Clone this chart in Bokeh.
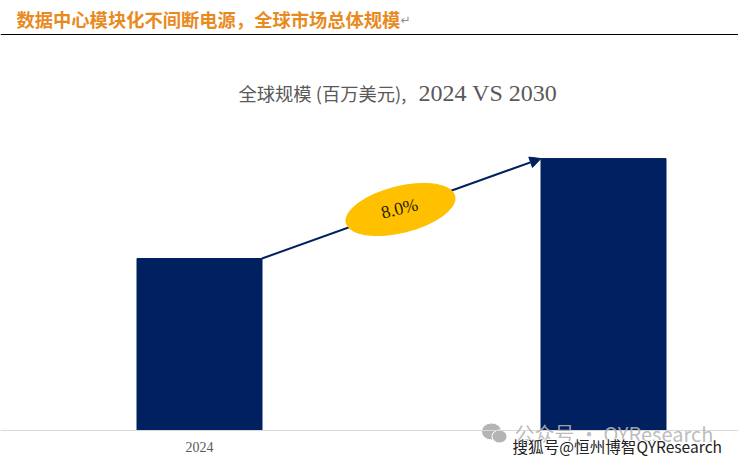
from bokeh.plotting import figure
from bokeh.models import Label, Arrow, NormalHead, Range1d, FixedTicker, Span
from bokeh.embed import file_html
from bokeh.resources import INLINE
import math

# ---- data (no value axis in the reference)
categories = ["2024", "2030"]
positions = [0, 1]
market_size = [1000, 1581]
cagr_label = "8.0%"
header_text = "数据中心模块化不间断电源，全球市场总体规模"
title_cn = "全球规模 (百万美元), "
title_en = "2024 VS 2030"
tick_labels = {0: "2024"}

NAVY = "#002060"
GOLD = "#FFC000"
ORANGE = "#E98A1E"
GRAY = "#595959"

W, H = 738, 464
BAR_W = 125 / 404

# page pixel -> data helpers (annotations only)
def px(x): return (x - 199) / 404
def py(y): return (430 - y) / 172 * 1000

p = figure(width=W, height=H, output_backend="svg", toolbar_location=None,
           x_range=Range1d(px(0), px(W)), y_range=Range1d(py(H), py(0)),
           min_border_left=0, min_border_right=0, min_border_top=0,
           min_border_bottom=0, background_fill_color="white",
           border_fill_color="white", outline_line_color=None)
p.grid.visible = False
p.yaxis.visible = False
ax = p.xaxis[0]
ax.fixed_location = 0
ax.ticker = FixedTicker(ticks=list(tick_labels))
ax.major_label_overrides = tick_labels
ax.axis_line_color = "#D9D9D9"
ax.axis_line_width = 1
ax.major_tick_line_color = None
ax.minor_tick_line_color = None
ax.major_label_text_font = "Liberation Serif"
ax.major_label_text_font_size = "14px"
ax.major_label_text_color = GRAY
ax.major_label_standoff = 5

p.vbar(x=positions, top=market_size, width=BAR_W, bottom=0, color=NAVY)

# growth arrow from one bar's top corner to the next
p.add_layout(Arrow(end=NormalHead(size=11, fill_color=NAVY, line_color=NAVY),
                   x_start=positions[0] + BAR_W / 2, y_start=market_size[0],
                   x_end=positions[1] - BAR_W / 2, y_end=market_size[1],
                   line_color=NAVY, line_width=2, level="underlay"))

angle = math.radians(14)
p.ellipse(x=[px(400)], y=[py(209)], width=[112], height=[46],
          width_units="screen", height_units="screen",
          angle=[angle], fill_color=GOLD, line_color=GOLD)

def label(x, y, text, font, size, color, **kw):
    l = Label(x=px(x), y=py(y), text=text, text_font=font, text_font_size=f"{size}px",
              text_color=color, text_baseline=kw.pop("baseline", "alphabetic"), **kw)
    p.add_layout(l)
    return l

label(399, 208, cagr_label, "Liberation Serif", 18, "#2B2000",
      angle=angle, text_align="center", baseline="middle")

# header
label(16, 18, header_text, "Noto Sans CJK SC", 18.3, ORANGE, text_font_style="bold")
label(400, 19, "↵", "DejaVu Sans", 12, "#8C8C8C")
p.add_layout(Span(location=py(34), dimension="width", line_color="black", line_width=1))

# chart title
label(238, 92, title_cn, "Noto Sans CJK SC", 18.3, GRAY, text_font_style="normal")
label(418, 92, title_en, "Liberation Serif", 24, GRAY)

# watermarks
p.ellipse(x=[px(491), px(499)], y=[py(431), py(436)], width=[20, 15], height=[17, 13],
          width_units="screen", height_units="screen",
          fill_color="#B4B4B4", line_color="white", line_width=1)
label(514, 433, "公众号 · QYResearch", "Noto Sans CJK SC", 20, "#B4B4B4", text_alpha=0.9)
for dx, dy in [(-1, 0), (1, 0), (0, -1), (0, 1)]:
    label(512 + dx, 445 + dy, "搜狐号@恒州博智QYResearch", "Noto Sans CJK SC", 15.6, "white")
label(512, 445, "搜狐号@恒州博智QYResearch", "Noto Sans CJK SC", 15.6, "#222222")

open("out.html", "w").write(file_html(p, INLINE))
